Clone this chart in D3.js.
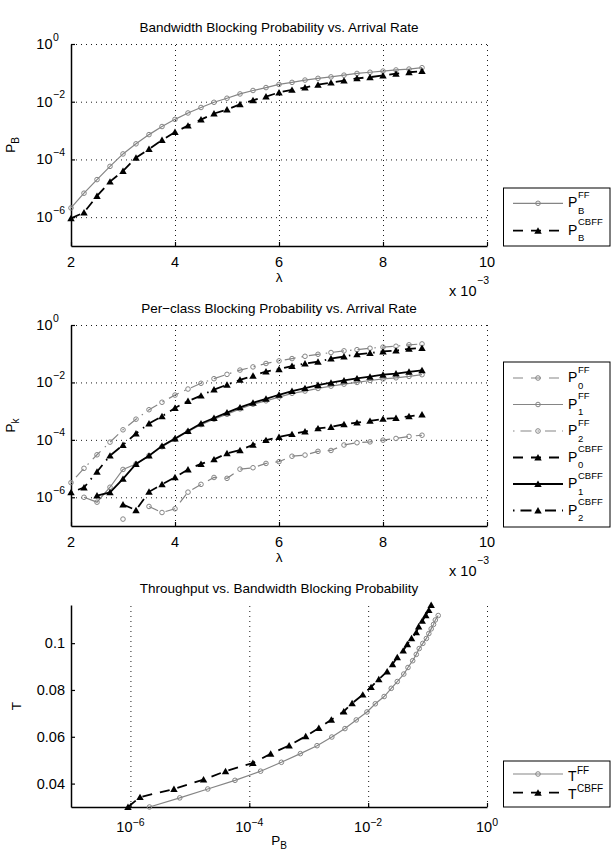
<!DOCTYPE html>
<html>
<head>
<meta charset="utf-8">
<title>blocking_probability_d3</title>
<script src="https://d3js.org/d3.v7.min.js"></script>
<style>
  body { margin: 0; background: #fff; }
  text { font-family: "Liberation Sans", Arial, Helvetica, sans-serif; fill: #000; }
</style>
</head>
<body>
<svg id="chart" width="615" height="863"></svg>
<script>
// arrival rate, in units of 10^-3
let lambda = [2, 2.25, 2.5, 2.75, 3, 3.25, 3.5, 3.75, 4, 4.25, 4.5, 4.75, 5, 5.25,
              5.5, 5.75, 6, 6.25, 6.5, 6.75, 7, 7.25, 7.5, 7.75, 8, 8.25, 8.5, 8.75]
let lambdaTicks = [2, 4, 6, 8, 10]
let probTicks = [1, 1e-2, 1e-4, 1e-6]
let tputTicks = [0.04, 0.06, 0.08, 0.1]
let tputTickLabels = ['0.04', '0.06', '0.08', '0.1']

// bandwidth blocking probability
let pbFF = [2.09e-6, 6.76e-6, 2.0e-5, 5.75e-5, 1.55e-4, 3.47e-4, 7.24e-4, 1.38e-3, 2.45e-3, 4.07e-3,
            6.31e-3, 9.55e-3, 0.0132, 0.0186, 0.0245, 0.0309, 0.0398, 0.0468, 0.0562, 0.0646,
            0.0724, 0.0832, 0.0955, 0.105, 0.115, 0.126, 0.135, 0.151]
let pbCBFF = [9.1e-7, 1.45e-6, 5.4e-6, 1.70e-5, 3.98e-5, 1.15e-4, 2.29e-4, 4.68e-4, 8.9e-4, 1.48e-3,
              2.40e-3, 3.89e-3, 5.37e-3, 8.13e-3, 0.0112, 0.0151, 0.0209, 0.0257, 0.0309, 0.0389,
              0.0457, 0.0537, 0.0646, 0.0708, 0.0813, 0.0933, 0.105, 0.115]

// per-class blocking probability (null = not plotted)
let p0FF = [null, null, null, null, 1.74e-7, null, 4.79e-7, 2.95e-7, 3.98e-7, 1.51e-6,
            2.82e-6, 4.90e-6, 4.57e-6, 9.55e-6, 1.07e-5, 1.51e-5, 1.74e-5, 2.69e-5, 2.95e-5, 3.98e-5,
            4.27e-5, 6.61e-5, 7.94e-5, 8.51e-5, 9.77e-5, 1.12e-4, 1.32e-4, 1.45e-4]
let p1FF = [null, 1.0e-6, 6.76e-7, 2.24e-6, 9.33e-6, 1.45e-5, 2.82e-5, 5.75e-5, 1.05e-4, 1.95e-4,
            3.39e-4, 5.25e-4, 7.76e-4, 1.20e-3, 1.74e-3, 2.29e-3, 3.09e-3, 4.17e-3, 5.01e-3, 6.17e-3,
            7.41e-3, 8.71e-3, 0.0100, 0.0117, 0.0132, 0.0145, 0.0162, 0.0186]
let p2FF = [3.24e-6, 1.02e-5, 3.02e-5, 8.32e-5, 2.24e-4, 5.25e-4, 1.12e-3, 2.04e-3, 3.63e-3, 5.89e-3,
            9.33e-3, 0.0135, 0.0191, 0.0269, 0.0347, 0.0457, 0.0562, 0.0676, 0.0813, 0.0955,
            0.110, 0.126, 0.138, 0.155, 0.170, 0.182, 0.204, 0.219]
let p0CBFF = [null, null, null, null, 5.62e-7, 3.55e-7, 1.55e-6, 2.82e-6, 5.01e-6, 9.33e-6,
              1.45e-5, 2.09e-5, 3.39e-5, 4.37e-5, 6.76e-5, 9.77e-5, 1.26e-4, 1.58e-4, 1.95e-4, 2.51e-4,
              2.82e-4, 3.47e-4, 3.98e-4, 4.57e-4, 5.37e-4, 5.75e-4, 6.61e-4, 7.59e-4]
let p1CBFF = [null, null, 1.15e-6, 1.48e-6, 4.37e-6, 1.45e-5, 2.82e-5, 6.17e-5, 1.12e-4, 2.04e-4,
              3.72e-4, 5.75e-4, 8.91e-4, 1.35e-3, 1.95e-3, 2.69e-3, 3.72e-3, 5.01e-3, 6.31e-3, 8.13e-3,
              9.77e-3, 0.0117, 0.0138, 0.0158, 0.0186, 0.0204, 0.0234, 0.0263]
let p2CBFF = [1.48e-6, 2.19e-6, 7.76e-6, 2.82e-5, 6.61e-5, 1.66e-4, 3.72e-4, 6.61e-4, 1.29e-3, 2.24e-3,
              3.47e-3, 5.62e-3, 8.32e-3, 0.0123, 0.0170, 0.0240, 0.0288, 0.0372, 0.0457, 0.0525,
              0.0676, 0.0794, 0.0955, 0.105, 0.120, 0.129, 0.148, 0.158]

// throughput
let tFF = [0.0300, 0.0339, 0.0377, 0.0414, 0.0453, 0.0491, 0.0528, 0.0562, 0.0599, 0.0635,
           0.0672, 0.0706, 0.0741, 0.0772, 0.0807, 0.0836, 0.0868, 0.0896, 0.0925, 0.0952,
           0.0977, 0.0999, 0.1020, 0.1041, 0.1061, 0.1080, 0.1099, 0.1118]
let tCBFF = [0.0300, 0.0342, 0.0377, 0.0417, 0.0453, 0.0488, 0.0527, 0.0563, 0.0602, 0.0637,
             0.0673, 0.0708, 0.0743, 0.0780, 0.0812, 0.0846, 0.0879, 0.0910, 0.0940, 0.0968,
             0.0995, 0.1021, 0.1046, 0.1071, 0.1095, 0.1119, 0.1141, 0.1163]

const svg = d3.select('#chart')
const left = 71, right = 487
const gray = '#858585'
const DASH = '10,8', DASHDOT = '1.5,6,11,6'

const sFF    = {color: gray,   width: 1.2, dash: null,    marker: 'o'}
const sCBFF  = {color: '#000', width: 1.8, dash: DASH,    marker: '^'}
const s0FF   = {color: gray,   width: 1.2, dash: DASH,    marker: 'o'}
const s2FF   = {color: gray,   width: 1.2, dash: DASHDOT, marker: 'o'}
const s1CBFF = {color: '#000', width: 1.8, dash: null,    marker: '^'}
const s2CBFF = {color: '#000', width: 1.8, dash: DASHDOT, marker: '^'}

function styleLine(sel, s) {
    sel.attr('fill', 'none').attr('stroke', s.color).attr('stroke-width', s.width)
    if (s.dash) sel.attr('stroke-dasharray', s.dash)
}

function markers(g, pts, s) {
    if (s.marker === 'o') {
        g.selectAll(null).data(pts).enter().append('circle')
            .attr('cx', d => d[0]).attr('cy', d => d[1]).attr('r', 2.3)
            .attr('fill', 'none').attr('stroke', s.color).attr('stroke-width', 1)
    } else {
        g.selectAll(null).data(pts).enter().append('path')
            .attr('d', d3.symbol(d3.symbolTriangle, 24))
            .attr('transform', d => `translate(${d[0]},${d[1] + 0.8})`)
            .attr('fill', s.color)
    }
}

function series(g, xs, ys, xScale, yScale, s) {
    let pts = xs.map((x, i) => [x, ys[i]])
        .filter(d => d[1] != null)
        .map(d => [xScale(d[0]), yScale(d[1])])
    let line = d3.line().defined(d => d != null)
    let full = xs.map((x, i) => ys[i] == null ? null : [xScale(x), yScale(ys[i])])
    g.append('path').attr('d', line(full)).call(styleLine, s)
    markers(g, pts, s)
}

function frame(top, bottom, x, y, xTicks, yTicks, hGrid) {
    let g = svg.append('g')
    let vg = g.append('g').attr('transform', `translate(0,${bottom})`)
        .call(d3.axisBottom(x).tickValues(xTicks).tickSize(-(bottom - top)).tickFormat(''))
    vg.select('.domain').remove()
    vg.selectAll('.tick line').attr('stroke', '#000').attr('stroke-width', 0.9).attr('stroke-dasharray', '1,4')
    if (hGrid) {
        let hg = g.append('g').attr('transform', `translate(${left},0)`)
            .call(d3.axisLeft(y).tickValues(yTicks).tickSize(-(right - left)).tickFormat(''))
        hg.select('.domain').remove()
        hg.selectAll('.tick line').attr('stroke', '#000').attr('stroke-width', 0.9).attr('stroke-dasharray', '1,4')
    }
    let xa = g.append('g').attr('transform', `translate(0,${bottom})`)
        .call(d3.axisBottom(x).tickValues(xTicks).tickSizeInner(-4).tickSizeOuter(0).tickFormat(''))
    let ya = g.append('g').attr('transform', `translate(${left},0)`)
        .call(d3.axisLeft(y).tickValues(yTicks).tickSizeInner(-4).tickSizeOuter(0).tickFormat(''))
    for (let a of [xa, ya]) {
        a.select('.domain').attr('stroke', '#000').attr('stroke-width', 1.5)
        a.selectAll('.tick line').attr('stroke', '#000').attr('stroke-width', 1.2)
    }
    return g
}

function powLabelLeft(g, yPos, exp) {
    g.append('text').attr('x', 52.5).attr('y', yPos + 5).attr('text-anchor', 'end')
        .attr('font-size', 14.5).text('10')
    g.append('text').attr('x', 53).attr('y', yPos - 3.5).attr('font-size', 10.5)
        .text(exp === 0 ? '0' : '\u2212' + Math.abs(exp))
}

function title(g, top, txt) {
    g.append('text').attr('x', (left + right) / 2).attr('y', top - 12.5)
        .attr('text-anchor', 'middle').attr('font-size', 13.5).text(txt)
}

function yLabel(g, xPos, top, bottom, base, sub) {
    let t = g.append('text')
        .attr('transform', `translate(${xPos},${(top + bottom) / 2}) rotate(-90)`)
        .attr('text-anchor', 'middle').attr('font-size', 13.5)
    t.append('tspan').text(base)
    if (sub) t.append('tspan').attr('font-size', 10).attr('dy', 4).text(sub)
}

function lambdaPanel(top, bottom, ttl, ylab) {
    let x = d3.scaleLinear().domain([2, 10]).range([left, right])
    let y = d3.scaleLog().domain([1e-7, 1]).range([bottom, top])
    let g = frame(top, bottom, x, y, lambdaTicks, probTicks, true)
    title(g, top, ttl)
    g.selectAll(null).data(lambdaTicks).enter().append('text')
        .attr('x', d => x(d)).attr('y', bottom + 21).attr('text-anchor', 'middle')
        .attr('font-size', 14.5).text(d => d)
    probTicks.forEach(t => powLabelLeft(g, y(t), Math.round(Math.log10(t))))
    g.append('text').attr('x', (left + right) / 2).attr('y', bottom + 36)
        .attr('text-anchor', 'middle').attr('font-size', 13.5).text('\u03bb')
    g.append('text').attr('x', 476.5).attr('y', bottom + 50).attr('text-anchor', 'end')
        .attr('font-size', 14.5).text('x 10')
    g.append('text').attr('x', 477).attr('y', bottom + 37.5).attr('font-size', 10.5).text('\u22123')
    yLabel(g, 15, top, bottom, 'P', ylab)
    return {g, x, y}
}

function legend(top, bottom, firstRow, rowGap, items) {
    let g = svg.append('g')
    g.append('rect').attr('x', 503.5).attr('y', top).attr('width', 106.5).attr('height', bottom - top)
        .attr('fill', '#fff').attr('stroke', '#000').attr('stroke-width', 1)
    items.forEach((it, i) => {
        let yy = firstRow + i * rowGap
        g.append('line').attr('x1', 513).attr('x2', 563).attr('y1', yy).attr('y2', yy).call(styleLine, it.s)
        markers(g, [[538, yy]], it.s)
        if (it.sub) {
            g.append('text').attr('x', 568).attr('y', yy + 4).attr('font-size', 14).text(it.base)
            g.append('text').attr('x', 578).attr('y', yy - 5.5).attr('font-size', 9.5).text(it.sup)
            g.append('text').attr('x', 578).attr('y', yy + 10.5).attr('font-size', 9.5).text(it.sub)
        } else {
            g.append('text').attr('x', 568).attr('y', yy + 6.5).attr('font-size', 14).text(it.base)
            g.append('text').attr('x', 577).attr('y', yy - 0.5).attr('font-size', 10).text(it.sup)
        }
    })
}

// ---- panel 1
let p1 = lambdaPanel(44, 246, 'Bandwidth Blocking Probability vs. Arrival Rate', 'B')
series(p1.g, lambda, pbFF, p1.x, p1.y, sFF)
series(p1.g, lambda, pbCBFF, p1.x, p1.y, sCBFF)
legend(188, 246, 203.3, 27.4, [
    {base: 'P', sup: 'FF', sub: 'B', s: sFF},
    {base: 'P', sup: 'CBFF', sub: 'B', s: sCBFF}
])

// ---- panel 2
let p2 = lambdaPanel(325, 526, 'Per\u2212class Blocking Probability vs. Arrival Rate', 'k')
series(p2.g, lambda, p0FF, p2.x, p2.y, s0FF)
series(p2.g, lambda, p1FF, p2.x, p2.y, sFF)
series(p2.g, lambda, p2FF, p2.x, p2.y, s2FF)
series(p2.g, lambda, p0CBFF, p2.x, p2.y, sCBFF)
series(p2.g, lambda, p1CBFF, p2.x, p2.y, s1CBFF)
series(p2.g, lambda, p2CBFF, p2.x, p2.y, s2CBFF)
legend(362, 527, 378, 26.5, [
    {base: 'P', sup: 'FF', sub: '0', s: s0FF},
    {base: 'P', sup: 'FF', sub: '1', s: sFF},
    {base: 'P', sup: 'FF', sub: '2', s: s2FF},
    {base: 'P', sup: 'CBFF', sub: '0', s: sCBFF},
    {base: 'P', sup: 'CBFF', sub: '1', s: s1CBFF},
    {base: 'P', sup: 'CBFF', sub: '2', s: s2CBFF}
])

// ---- panel 3
let top3 = 605, bottom3 = 807
let x3 = d3.scaleLog().domain([1e-7, 1]).range([left, right])
let y3 = d3.scaleLinear().domain([0.03, 0.1163]).range([bottom3, top3])
let g3 = frame(top3, bottom3, x3, y3, probTicks, tputTicks, false)
title(g3, top3, 'Throughput vs. Bandwidth Blocking Probability')
g3.selectAll(null).data(tputTicks).enter().append('text')
    .attr('x', 65).attr('y', d => y3(d) + 5).attr('text-anchor', 'end')
    .attr('font-size', 14.5).text((d, i) => tputTickLabels[i])
probTicks.forEach(t => {
    let e = Math.round(Math.log10(t))
    let tx = g3.append('text').attr('x', x3(t)).attr('y', bottom3 + 25)
        .attr('text-anchor', 'middle').attr('font-size', 14.5)
    tx.append('tspan').text('10')
    tx.append('tspan').attr('font-size', 10.5).attr('dy', -6).text(e === 0 ? '0' : '\u2212' + Math.abs(e))
})
let xl = g3.append('text').attr('x', (left + right) / 2).attr('y', bottom3 + 37.5)
    .attr('text-anchor', 'middle').attr('font-size', 13.5)
xl.append('tspan').text('P')
xl.append('tspan').attr('font-size', 10).attr('dy', 4).text('B')
yLabel(g3, 21, top3, bottom3, 'T', null)
series(g3, pbFF, tFF, x3, y3, sFF)
series(g3, pbCBFF, tCBFF, x3, y3, sCBFF)
legend(761, 807, 774, 18.7, [
    {base: 'T', sup: 'FF', s: sFF},
    {base: 'T', sup: 'CBFF', s: sCBFF}
])
</script>
</body>
</html>
